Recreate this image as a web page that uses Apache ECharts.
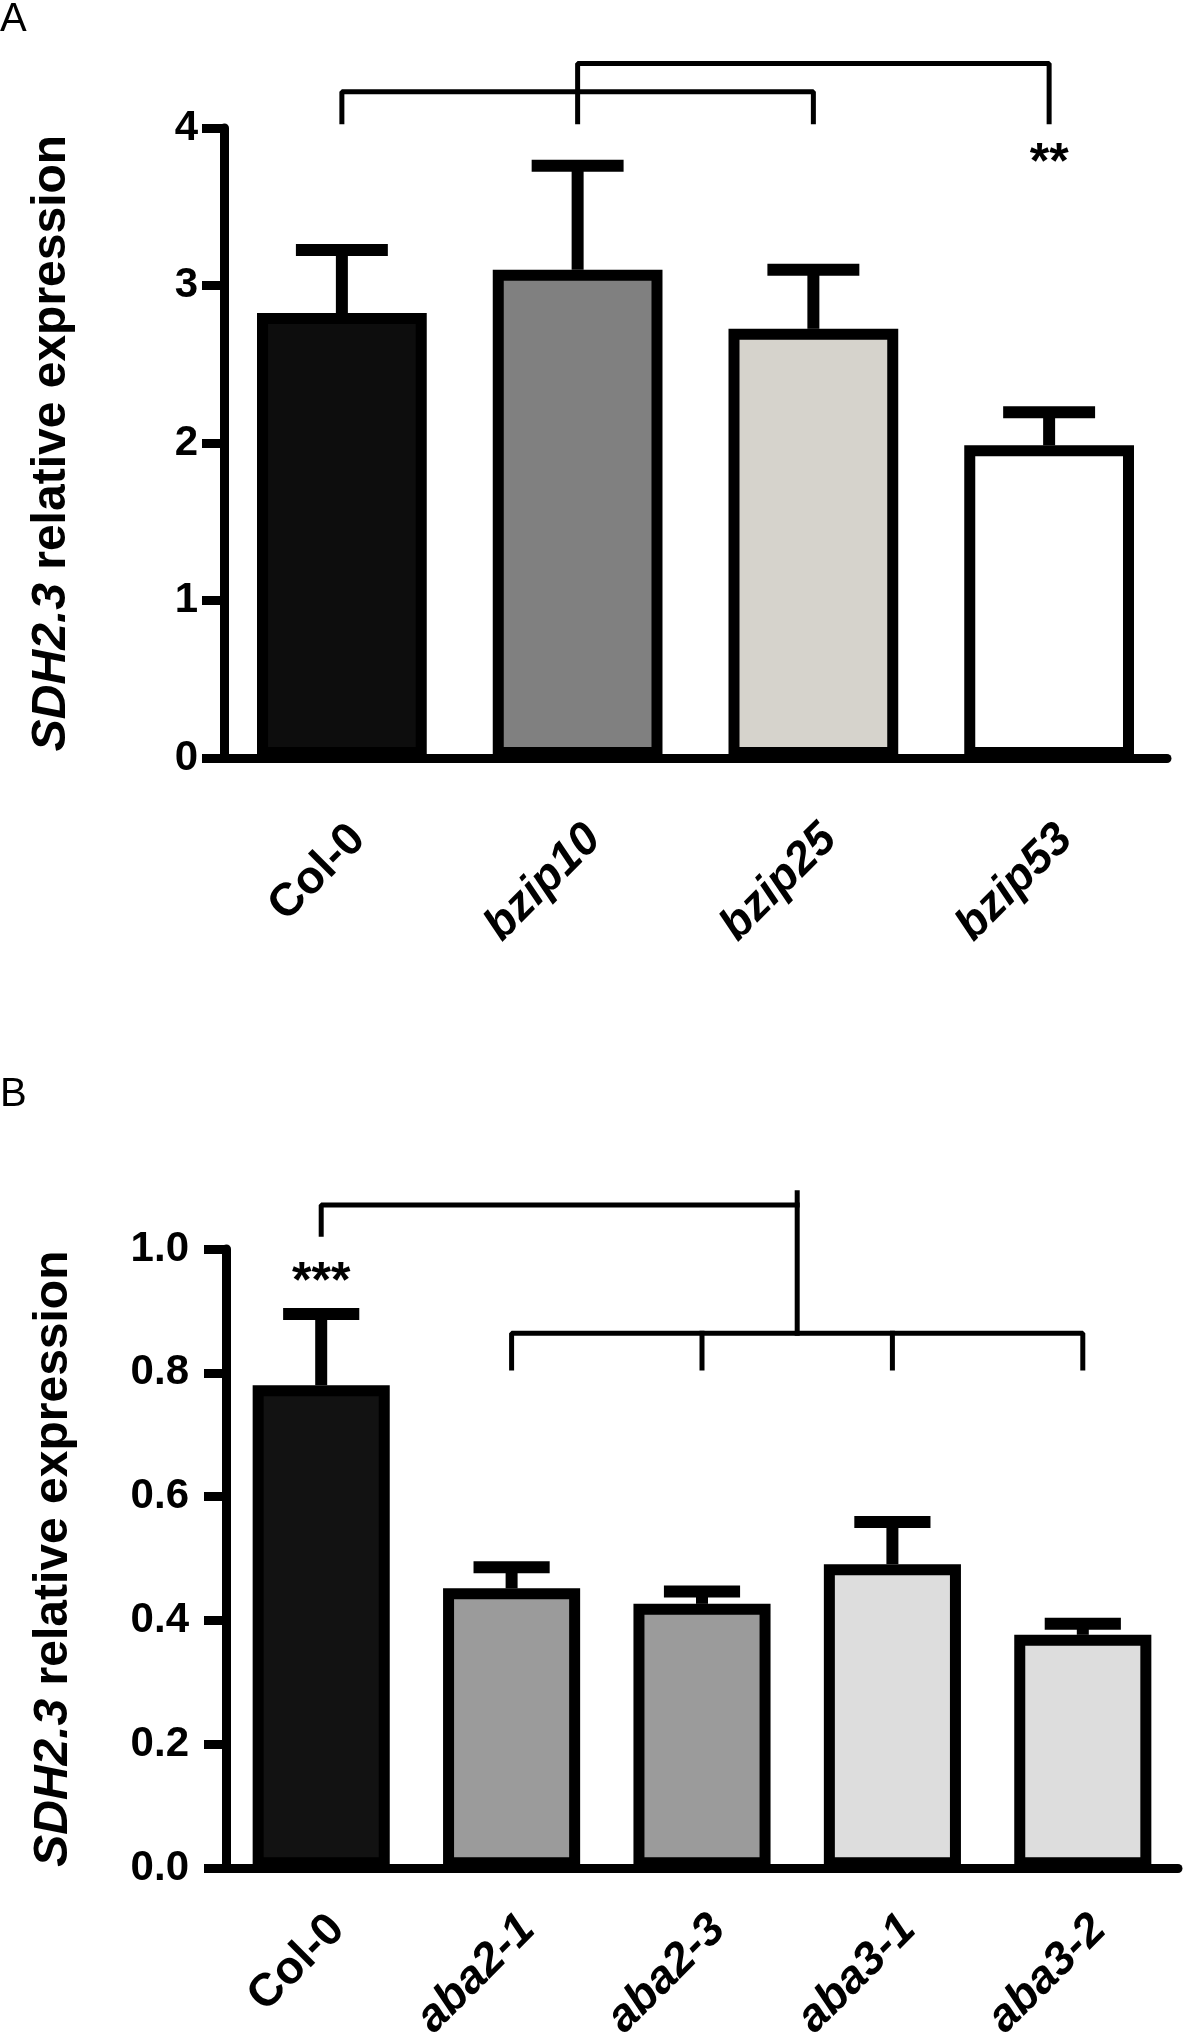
<!DOCTYPE html>
<html lang="en">
<head>
    <meta charset="UTF-8">
    <title>SDH2.3 relative expression</title>
    <script src="https://cdn.jsdelivr.net/npm/echarts@6.0.0/dist/echarts.min.js"></script>
    <style>
        body { margin: 0; background: #fff; }
    </style>
</head>
<body>

<div id="main" style="width: 1183px;height:2044px;"></div>
<script type="text/javascript">
    // panel A data
    var catsA = ['Col-0', 'bzip10', 'bzip25', 'bzip53'];
    var meanA = [2.825, 3.10, 2.725, 1.985];
    var errA = [0.40, 0.66, 0.375, 0.21];
    var starsA = ['', '', '', '**'];
    var starYA = [0, 0, 0, 3.77];

    // panel B data
    var catsB = ['Col-0', 'aba2-1', 'aba2-3', 'aba3-1', 'aba3-2'];
    var meanB = [0.780, 0.452, 0.427, 0.491, 0.377];
    var errB = [0.115, 0.034, 0.020, 0.068, 0.018];
    var starsB = ['***', '', '', '', ''];
    var starYB = [0.945, 0, 0, 0, 0];

    // comparison brackets, [category position, value]
    var bracketsA = [
        [[0, 4.04], [0, 4.23], [2, 4.23], [2, 4.04]],
        [[1, 4.04], [1, 4.41], [3, 4.41], [3, 4.04]]
    ];
    var bracketsB = [
        [[0, 1.024], [0, 1.071], [2.5, 1.071]],
        [[2.5, 1.091], [2.5, 0.864]],
        [[1, 0.808], [1, 0.864], [4, 0.864], [4, 0.808]],
        [[2, 0.864], [2, 0.808]],
        [[3, 0.864], [3, 0.808]]
    ];

    var colorsA = ['#0d0d0d', '#808080', '#d6d3cc', '#ffffff'];
    var colorsB = ['#121212', '#9b9b9b', '#9b9b9b', '#dddddd', '#dddddd'];

    var FONT = 'Liberation Sans, Arial, sans-serif';

    var myChart = echarts.init(document.getElementById('main'));

    function catLabel(v) {
        return v === 'Col-0' ? '{n|' + v + '}' : '{i|' + v + '}';
    }

    function xAxisCat(cats, grid, margin) {
        return {
            type: 'category',
            gridIndex: grid,
            data: cats,
            axisLine: { onZero: false, lineStyle: { color: '#000', width: 9 } },
            axisTick: { alignWithLabel: true, length: 20, lineStyle: { color: '#000', width: 9 } },
            axisLabel: {
                interval: 0,
                rotate: 45,
                margin: margin,
                verticalAlign: 'top',
                formatter: catLabel,
                rich: {
                    n: { fontFamily: FONT, fontWeight: 'bold', fontSize: 46, color: '#000' },
                    i: { fontFamily: FONT, fontWeight: 'bold', fontStyle: 'italic', fontSize: 46, color: '#000' }
                }
            }
        };
    }

    function yAxisVal(grid, max, interval, margin, digits) {
        return {
            type: 'value',
            gridIndex: grid,
            min: 0,
            max: max,
            interval: interval,
            name: '{i|SDH2.3}{n| relative expression}',
            nameLocation: 'middle',
            nameGap: 148,
            nameTextStyle: {
                rich: {
                    i: { fontFamily: FONT, fontWeight: 'bold', fontStyle: 'italic', fontSize: 48, color: '#000' },
                    n: { fontFamily: FONT, fontWeight: 'bold', fontSize: 48, color: '#000' }
                }
            },
            splitLine: { show: false },
            axisLine: { show: true, onZero: false, lineStyle: { color: '#000', width: 9 } },
            axisTick: { show: true, length: 22, lineStyle: { color: '#000', width: 9 } },
            axisLabel: {
                margin: margin,
                fontFamily: FONT,
                fontWeight: 'bold',
                fontSize: 42,
                color: '#000',
                formatter: function (v) { return v.toFixed(digits); }
            }
        };
    }

    // hidden axes for brackets and stars
    function xAxisAnno(grid, n) {
        return { type: 'value', gridIndex: grid, min: -0.5, max: n - 0.5, show: false };
    }
    function yAxisAnno(grid, max) {
        return { type: 'value', gridIndex: grid, min: 0, max: max, show: false };
    }

    function barSeries(means, colors, axis) {
        return {
            type: 'bar',
            xAxisIndex: axis,
            yAxisIndex: axis,
            barWidth: '72%',
            z: 3,
            data: means.map(function (m, i) {
                return { value: m, itemStyle: { color: colors[i] } };
            }),
            itemStyle: { borderColor: '#000', borderWidth: 11 }
        };
    }

    function errSeries(means, errs, axis, capRatio) {
        return {
            type: 'custom',
            xAxisIndex: axis,
            yAxisIndex: axis,
            z: 2,
            data: means.map(function (m, i) { return [i, m, errs[i]]; }),
            encode: { x: 0, y: 1 },
            renderItem: function (params, api) {
                var i = api.value(0), m = api.value(1), e = api.value(2);
                var p0 = api.coord([i, m]);
                var p1 = api.coord([i, m + e]);
                var w = api.size([1, 0])[0] * capRatio;
                return {
                    type: 'group',
                    children: [
                        { type: 'line', shape: { x1: p0[0], y1: p0[1], x2: p1[0], y2: p1[1] },
                          style: { stroke: '#000', lineWidth: 12 } },
                        { type: 'line', shape: { x1: p1[0] - w / 2, y1: p1[1], x2: p1[0] + w / 2, y2: p1[1] },
                          style: { stroke: '#000', lineWidth: 12 } }
                    ]
                };
            }
        };
    }

    function bracketSeries(list, axis) {
        return list.map(function (pts) {
            return {
                type: 'line',
                xAxisIndex: axis,
                yAxisIndex: axis,
                clip: false,
                silent: true,
                symbol: 'none',
                lineStyle: { color: '#000', width: 5, cap: 'square' },
                data: pts
            };
        });
    }

    function starSeries(stars, ys, axis) {
        var pts = [];
        stars.forEach(function (s, i) { if (s) pts.push([i, ys[i], s]); });
        return {
            type: 'custom',
            xAxisIndex: axis,
            yAxisIndex: axis,
            clip: false,
            silent: true,
            data: pts,
            encode: { x: 0, y: 1 },
            renderItem: function (params, api) {
                var p = api.coord([api.value(0), api.value(1)]);
                return {
                    type: 'text',
                    x: p[0],
                    y: p[1],
                    style: {
                        text: pts[params.dataIndex][2],
                        fill: '#000',
                        fontFamily: FONT,
                        fontSize: 50,
                        fontWeight: 'bold',
                        align: 'center',
                        verticalAlign: 'middle'
                    }
                };
            }
        };
    }

    var option = {
        backgroundColor: '#fff',
        animation: false,
        title: [
            { text: 'A', left: 0, top: 0, padding: 0,
              textStyle: { fontFamily: FONT, fontSize: 40, fontWeight: 'normal', color: '#000' } },
            { text: 'B', left: 0, top: 1075, padding: 0,
              textStyle: { fontFamily: FONT, fontSize: 40, fontWeight: 'normal', color: '#000' } }
        ],
        grid: [
            { left: 224, top: 128, width: 943, height: 630 },
            { left: 226, top: 1249, width: 952, height: 635 }
        ],
        xAxis: [
            xAxisCat(catsA, 0, 58),
            xAxisCat(catsB, 1, 38),
            xAxisAnno(0, catsA.length),
            xAxisAnno(1, catsB.length)
        ],
        yAxis: [
            yAxisVal(0, 4, 1, 26, 0),
            yAxisVal(1, 1, 0.2, 37, 1),
            yAxisAnno(0, 4),
            yAxisAnno(1, 1)
        ],
        series: [
            barSeries(meanA, colorsA, 0),
            errSeries(meanA, errA, 0, 0.39),
            barSeries(meanB, colorsB, 1),
            errSeries(meanB, errB, 1, 0.40)
        ]
        .concat(bracketSeries(bracketsA, 2))
        .concat(bracketSeries(bracketsB, 3))
        .concat([starSeries(starsA, starYA, 2), starSeries(starsB, starYB, 3)])
    };

    myChart.setOption(option);
</script>

</body>
</html>
